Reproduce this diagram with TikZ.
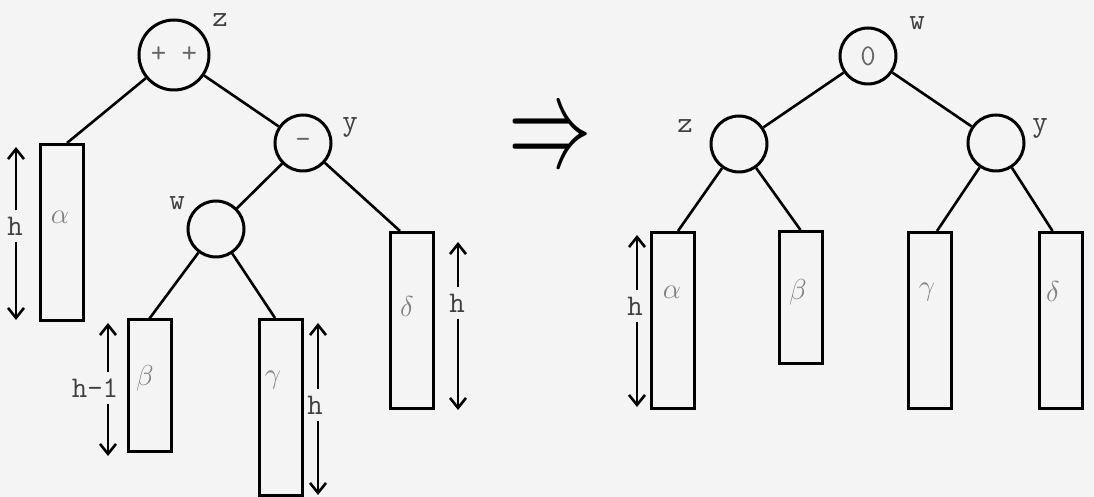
\documentclass[tikz,border=0pt]{standalone}
\usepackage{graphicx}
\usetikzlibrary{arrows.meta, positioning}
\definecolor{paper}{HTML}{F4F4F4}

\begin{document}
\begin{tikzpicture}[
  x=0.5pt, y=-0.5pt,
  font=\fontsize{15}{17}\selectfont\ttfamily,
  knot/.style={circle, draw, line width=1.5pt, minimum size=28pt,
               inner sep=0pt, text=black!60},
  leaf/.style={rectangle, draw, line width=1.5pt, minimum width=21.5pt,
               minimum height=88pt, inner sep=0pt},
  lowleaf/.style={leaf, minimum height=66pt},
  link/.style={line width=1.3pt},
  hdim/.style={-{Straight Barb[length=5pt, width=8pt, line width=1.3pt]},
               line width=1.2pt},
  namelbl/.style={text=black!75, inner sep=1pt},
  greek/.style={text=black!50, inner sep=1pt,
                font=\fontsize{14}{16}\selectfont},
  hlbl/.style={text=black!75, inner sep=3pt}
]
\fill[paper] (0,0) rectangle (1094,497);
\useasboundingbox (0,0) rectangle (1094,497);

% left tree, before the rotation
\node (z) [knot, minimum size=35pt] at (174,55) {+ +};
\node (y) [knot] at (303,143) {-};
\node (w) [knot] at (216,229) {};
\node (zn) [namelbl] at (220,20) {z};
\node (yn) [namelbl] at (350,127) {y};
\node (wn) [namelbl] at (177,203) {w};

\node (alpha) [leaf] at (61.5,232.5) {};
\node (beta) [lowleaf] at (149.5,386) {};
\node (gamma) [leaf] at (280.5,407.5) {};
\node (delta) [leaf] at (412,320.5) {};
\node (la) [greek] at (60,217) {$\alpha$};
\node (lb) [greek] at (145,378) {$\beta$};
\node (lg) [greek] at (273,380) {$\gamma$};
\node (ld) [greek] at (407,307) {$\delta$};

\draw[link] (z) -- ([xshift=2.75pt]alpha.north);
\draw[link] (z) -- (y);
\draw[link] (y) -- (w);
\draw[link] (y) -- ([xshift=-6pt]delta.north);
\draw[link] (w) -- (beta.north);
\draw[link] (w) -- ([xshift=-2.75pt]gamma.north);

% heights
\coordinate (aTop) at (16,147);  \coordinate (aBot) at (16,320);
\coordinate (bTop) at (108,323); \coordinate (bBot) at (108,456);
\coordinate (gTop) at (318,323); \coordinate (gBot) at (318,495);
\coordinate (dTop) at (458,242); \coordinate (dBot) at (458,410);
\node (ha) [hlbl] at (15,226) {h};
\node (hb) [hlbl] at (95,388) {h-1};
\node (hg) [hlbl] at (315,405) {h};
\node (hd) [hlbl] at (457,303) {h};
\draw[hdim] (ha.north -| aTop) -- (aTop);
\draw[hdim] (ha.south -| aBot) -- (aBot);
\draw[hdim] (hb.north -| bTop) -- (bTop);
\draw[hdim] (hb.south -| bBot) -- (bBot);
\draw[hdim] (hg.north -| gTop) -- (gTop);
\draw[hdim] (hg.south -| gBot) -- (gBot);
\draw[hdim] (hd.north -| dTop) -- (dTop);
\draw[hdim] (hd.south -| dBot) -- (dBot);

\node (imp) at (550,143) {\scalebox{2.9}[4.5]{$\Rightarrow$}};

% right tree, after
\node (w2) [knot] at (868,56) {0};
\node (z2) [knot] at (739,144) {};
\node (y2) [knot] at (996,143) {};
\node (wn2) [namelbl] at (917,23) {w};
\node (zn2) [namelbl] at (685,126) {z};
\node (yn2) [namelbl] at (1040,128) {y};

\node (alpha2) [leaf] at (672.5,320.5) {};
\node (beta2) [lowleaf] at (800.5,297.5) {};
\node (gamma2) [leaf] at (930,320.5) {};
\node (delta2) [leaf] at (1060.5,320.5) {};
\node (la2) [greek] at (672,292) {$\alpha$};
\node (lb2) [greek] at (798,292) {$\beta$};
\node (lg2) [greek] at (927,292) {$\gamma$};
\node (ld2) [greek] at (1053,292) {$\delta$};

\draw[link] (w2) -- (z2);
\draw[link] (w2) -- (y2);
\draw[link] (z2) -- ([xshift=2.75pt]alpha2.north);
\draw[link] (z2) -- (beta2.north);
\draw[link] (y2) -- ([xshift=3.5pt]gamma2.north);
\draw[link] (y2) -- ([xshift=-4pt]delta2.north);

\coordinate (a2Top) at (637,235); \coordinate (a2Bot) at (637,407);
\node (ha2) [hlbl] at (635,306) {h};
\draw[hdim] (ha2.north -| a2Top) -- (a2Top);
\draw[hdim] (ha2.south -| a2Bot) -- (a2Bot);
\end{tikzpicture}
\end{document}
